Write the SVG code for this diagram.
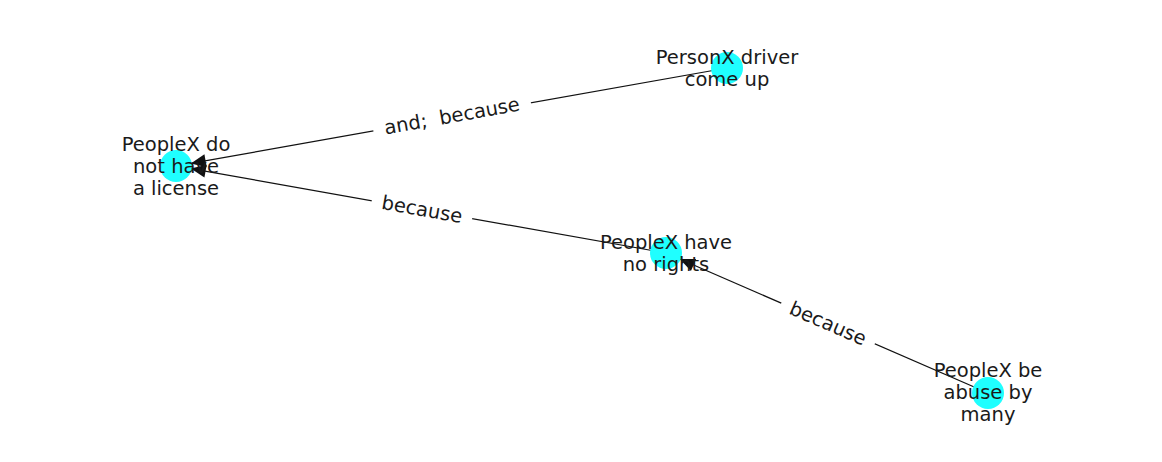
<svg xmlns="http://www.w3.org/2000/svg" width="1162" height="462" viewBox="0 0 1162 462">
<style>
.edge{stroke:#111;stroke-width:1.2;fill:none;marker-end:url(#arr)}
.node circle{fill:#1fffff;stroke:none}
.lbl{font-family:"DejaVu Sans",sans-serif;font-size:19.5px;fill:#1a1a1a;text-anchor:middle;dominant-baseline:central;white-space:pre}
.bg{fill:#fff}
</style>
<defs>
<marker id="arr" viewBox="-16 -8 17 16" refX="0" refY="0" markerWidth="17" markerHeight="16" markerUnits="userSpaceOnUse" orient="auto">
<path d="M0,0 L-15,-6.5 L-15,6.5 z" fill="#111"/>
</marker>
</defs>
<rect width="1162" height="462" fill="#fff"/>
<g id="connectors">
<line class="edge" x1="727" y1="68" x2="190.8" y2="163.4"/>
<line class="edge" x1="666" y1="253" x2="190.8" y2="168.6"/>
<line class="edge" x1="988" y1="393" x2="679.8" y2="259"/>
<g transform="translate(452,116) rotate(-10.08)">
<rect class="bg" x="-80" y="-12" width="160" height="24"/>
<text class="lbl" x="0" y="0">and;  because</text>
</g>
<g transform="translate(422,209.5) rotate(10.07)">
<rect class="bg" x="-51" y="-12" width="102" height="24"/>
<text class="lbl" x="0" y="0">because</text>
</g>
<g transform="translate(828,323.5) rotate(23.5)">
<rect class="bg" x="-51" y="-12" width="102" height="24"/>
<text class="lbl" x="0" y="0">because</text>
</g>
</g>
<g id="n_license" class="node">
<circle cx="176" cy="166" r="16"/>
<text class="lbl" x="176" y="144">PeopleX do</text>
<text class="lbl" x="176" y="166">not have</text>
<text class="lbl" x="176" y="188">a license</text>
</g>
<g id="n_driver" class="node">
<circle cx="727" cy="68" r="16"/>
<text class="lbl" x="727" y="57">PersonX driver</text>
<text class="lbl" x="727" y="79">come up</text>
</g>
<g id="n_rights" class="node">
<circle cx="666" cy="253" r="16"/>
<text class="lbl" x="666" y="242">PeopleX have</text>
<text class="lbl" x="666" y="264">no rights</text>
</g>
<g id="n_abuse" class="node">
<circle cx="988" cy="393" r="16"/>
<text class="lbl" x="988" y="370">PeopleX be</text>
<text class="lbl" x="988" y="392">abuse by</text>
<text class="lbl" x="988" y="414">many</text>
</g>
</svg>
